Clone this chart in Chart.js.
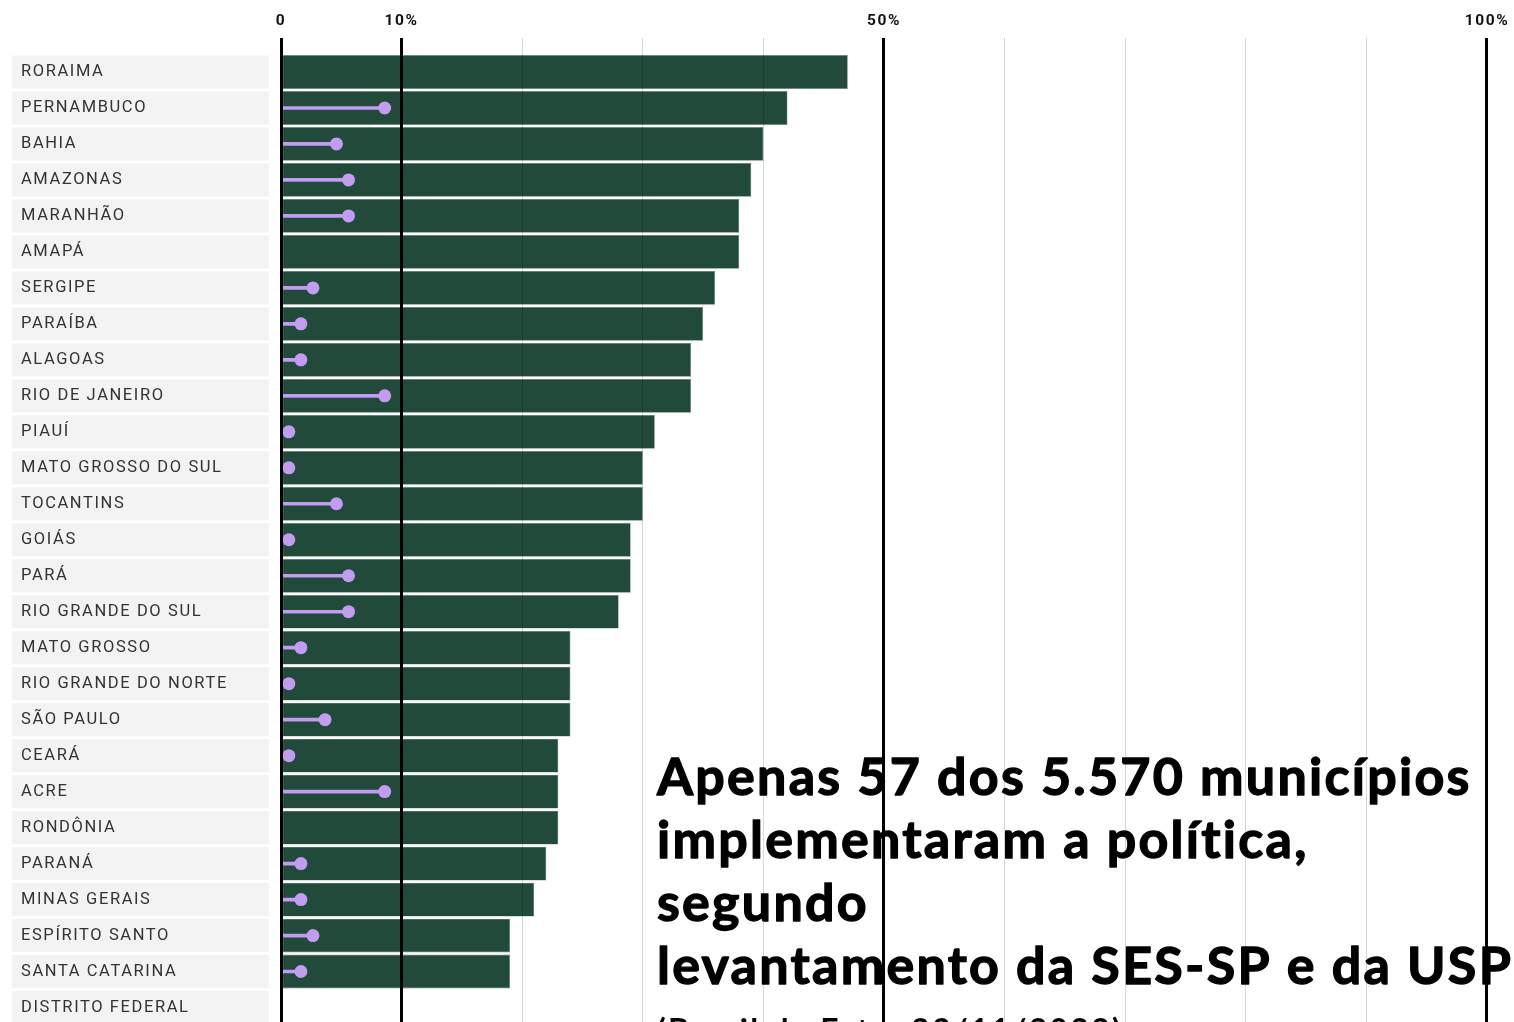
<!DOCTYPE html>
<html>
<head>
<meta charset="utf-8">
<script src="https://cdn.jsdelivr.net/npm/chart.js@4/dist/chart.umd.min.js"></script>
<style>
  html, body { margin: 0; padding: 0; background: #fff; overflow: hidden; }
  canvas { display: block; }
</style>
</head>
<body>
<canvas id="canvas" width="1514" height="1032"></canvas>
<script>
const estados = ['RORAIMA', 'PERNAMBUCO', 'BAHIA', 'AMAZONAS', 'MARANHÃO', 'AMAPÁ', 'SERGIPE', 'PARAÍBA',
  'ALAGOAS', 'RIO DE JANEIRO', 'PIAUÍ', 'MATO GROSSO DO SUL', 'TOCANTINS', 'GOIÁS', 'PARÁ',
  'RIO GRANDE DO SUL', 'MATO GROSSO', 'RIO GRANDE DO NORTE', 'SÃO PAULO', 'CEARÁ', 'ACRE',
  'RONDÔNIA', 'PARANÁ', 'MINAS GERAIS', 'ESPÍRITO SANTO', 'SANTA CATARINA', 'DISTRITO FEDERAL'];

// barras verdes (%)
const barras = [47, 42, 40, 39, 38, 38, 36, 35, 34, 34, 31, 30, 30, 29, 29, 28, 24, 24, 24, 23, 23, 23, 22, 21, 19, 19, null];

// pirulitos roxos (%)
const pontos = [null, 8.6, 4.6, 5.6, 5.6, null, 2.65, 1.65, 1.65, 8.6, 0.65, 0.65, 4.6, 0.65, 5.6,
  5.6, 1.65, 0.65, 3.65, 0.65, 8.6, null, 1.65, 1.65, 2.65, 1.65, null];

const marcasX = [0, 10, 50, 100];

const titulo = ['Apenas 57 dos 5.570 municípios', 'implementaram a política,', 'segundo',
  'levantamento da SES-SP e da USP'];
const fonte = '(Brasil de Fato, 23/11/2023)';

const hastes = pontos.map(v => v === null ? null : [0, v]);

// caixas cinza dos rótulos + título por baixo de tudo
const fundo = {
  id: 'fundo',
  beforeDraw(chart) {
    const ctx = chart.ctx;
    const y = chart.scales.y;
    ctx.save();
    ctx.fillStyle = '#f2f3f2';
    estados.forEach((e, i) => {
      const yc = y.getPixelForValue(i);
      ctx.fillRect(12, yc - 16.5, 257, 33);
    });

    ctx.fillStyle = '#000';
    ctx.strokeStyle = '#000';
    ctx.lineWidth = 1.3;
    ctx.lineJoin = 'round';
    ctx.textBaseline = 'alphabetic';
    ctx.font = 'bold 52px Lato';
    ctx.letterSpacing = '0px';
    const larg = ctx.measureText(titulo[3]).width;
    const esp = Math.max(0, (856 - larg) / titulo[3].length);
    ctx.letterSpacing = esp.toFixed(2) + 'px';
    const base = [795, 858, 921, 984];
    titulo.forEach((t, i) => {
      ctx.fillText(t, 657, base[i]);
      ctx.strokeText(t, 657, base[i]);
    });
    ctx.font = 'bold 32px Lato';
    ctx.fillText(fonte, 657, 1042);
    ctx.restore();
    ctx.letterSpacing = '1.6px';
  },
  afterDraw(chart) {
    chart.ctx.letterSpacing = '0px';
  }
};

new Chart(document.getElementById('canvas').getContext('2d'), {
  type: 'bar',
  data: {
    labels: estados,
    datasets: [
      {
        type: 'line',
        data: pontos,
        showLine: false,
        pointRadius: 6.5,
        pointHoverRadius: 6.5,
        pointBackgroundColor: '#c29cf0',
        pointBorderWidth: 0,
        order: 1
      },
      {
        data: hastes,
        backgroundColor: '#c29cf0',
        barThickness: 3,
        grouped: false,
        order: 2
      },
      {
        data: barras,
        backgroundColor: '#214a3b',
        borderColor: '#5f8577',
        borderWidth: 0.6,
        borderSkipped: false,
        barPercentage: 0.94,
        categoryPercentage: 1,
        grouped: false,
        order: 3
      }
    ]
  },
  options: {
    indexAxis: 'y',
    responsive: false,
    animation: false,
    layout: { padding: { left: 21, right: 27, top: 0, bottom: 0 } },
    plugins: {
      legend: { display: false },
      tooltip: { enabled: false }
    },
    scales: {
      x: {
        position: 'top',
        min: 0,
        max: 100,
        afterFit(scale) { scale.height = 54; },
        border: { display: false },
        grid: {
          z: 1,
          drawTicks: true,
          tickLength: 16,
          color: c => marcasX.includes(c.tick.value) ? '#000' : 'rgba(0,0,0,0.16)',
          lineWidth: c => marcasX.includes(c.tick.value) ? 3 : 1
        },
        ticks: {
          stepSize: 10,
          autoSkip: false,
          maxRotation: 0,
          padding: 8,
          color: '#111',
          font: { family: 'Roboto', weight: 'bold', size: 15.5 },
          callback: v => v === 0 ? '0' : (marcasX.includes(v) ? v + '%' : '')
        }
      },
      y: {
        afterFit(scale) {
          scale.width = 260;
          scale.paddingTop = 0;
          scale.paddingBottom = 0;
        },
        border: { display: false },
        grid: { display: false, drawTicks: false },
        ticks: {
          crossAlign: 'far',
          autoSkip: false,
          padding: 0,
          color: '#333',
          font: { family: 'Roboto', size: 16.5 }
        }
      }
    }
  },
  plugins: [fundo]
});
</script>
</body>
</html>
